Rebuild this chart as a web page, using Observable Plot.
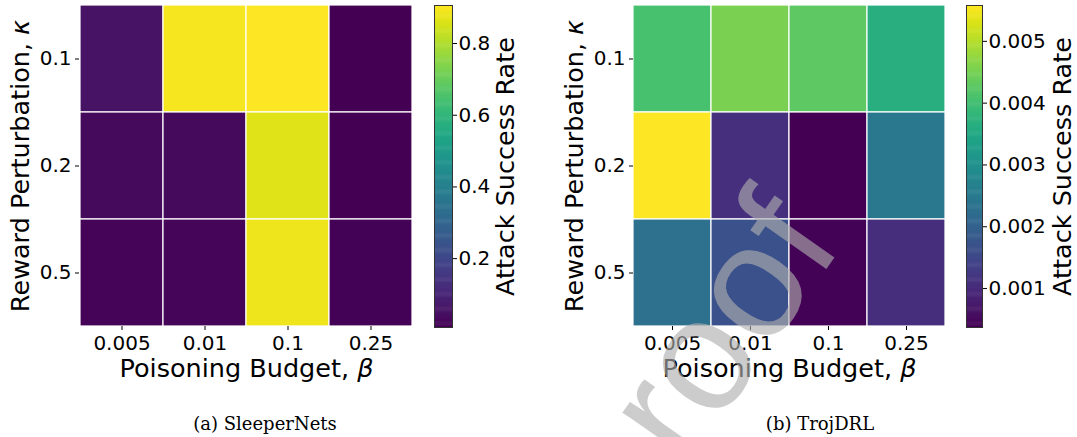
<!DOCTYPE html>
<html>
<head>
<meta charset="utf-8">
<script src="https://cdn.jsdelivr.net/npm/d3@7"></script>
<script src="https://cdn.jsdelivr.net/npm/@observablehq/plot@0.6"></script>
<style>
  html, body { margin: 0; padding: 0; background: #fff; }
  #root { position: relative; width: 1077px; height: 437px; overflow: hidden; background: #fff; }
  .part { position: absolute; top: 0; font-family: "DejaVu Sans", sans-serif; }
  .caption { position: absolute; top: 412px; font-family: "DejaVu Serif", serif; font-size: 18px; line-height: 24px; color: #000; transform: translateX(-50%); white-space: nowrap; }
  #wm { position: absolute; left: 694px; top: 362px; transform: translate(-50%, -50%) rotate(-55deg); font-family: "Liberation Sans", sans-serif; font-size: 160px; line-height: 1; color: rgba(175,175,175,0.63); white-space: nowrap; pointer-events: none; }
</style>
</head>
<body>
<div id="root"></div>
<script>
// ---- data ----
const betas = ["0.005", "0.01", "0.1", "0.25"];          // Poisoning Budget, β
const kappas = ["0.1", "0.2", "0.5"];                    // Reward Perturbation, κ
const sleeperNets = [                                    // rows: κ, cols: β
  [0.053, 0.893, 0.906, 0.010],
  [0.030, 0.030, 0.861, 0.010],
  [0.017, 0.021, 0.884, 0.012]
];
const trojDRL = [
  [0.00407, 0.00454, 0.00428, 0.00365],
  [0.00558, 0.00110, 0.00037, 0.00245],
  [0.00230, 0.00167, 0.00040, 0.00105]
];
const sleeperDomain = [0.008, 0.906];
const trojDomain = [0.00037, 0.00558];
const sleeperTicks = [0.2, 0.4, 0.6, 0.8];
const trojTicks = [0.001, 0.002, 0.003, 0.004, 0.005];
const xTitle = "Poisoning Budget, β";
const yTitle = "Reward Perturbation, κ";
const cTitle = "Attack Success Rate";
const captions = ["(a) SleeperNets", "(b) TrojDRL"];
const watermark = "proof";

const TICK_FS = 20;
const LABEL_FS = 25.5;
const baseStyle = {fontFamily: "DejaVu Sans", fontSize: TICK_FS + "px", color: "#000", background: "transparent", overflow: "visible"};

function finish(svg) {
  svg.querySelectorAll("text").forEach(t => {
    const m = t.textContent.match(/^(.*, )([κβ])$/);
    if (m && !t.querySelector("tspan")) {
      t.textContent = m[1];
      const ts = document.createElementNS("http://www.w3.org/2000/svg", "tspan");
      ts.setAttribute("font-style", "italic");
      ts.textContent = m[2];
      t.appendChild(ts);
    }
  });
  return svg;
}

function heatmap(values, domain, width, marginLeft, marginRight, yLabelDx) {
  const rows = [];
  kappas.forEach((k, i) => betas.forEach((b, j) => rows.push({kappa: k, beta: b, value: values[i][j]})));
  return finish(Plot.plot({
    width, height: 400,
    marginLeft, marginRight, marginTop: 5, marginBottom: 74,
    x: {domain: betas, padding: 0, label: null},
    y: {domain: kappas, padding: 0, label: null},
    color: {type: "linear", scheme: "viridis", domain},
    style: baseStyle,
    marks: [
      Plot.cell(rows, {x: "beta", y: "kappa", fill: "value", stroke: "white", strokeWidth: 1.2}),
      Plot.axisX({tickSize: 4, tickFormat: () => "", label: null}),
      Plot.axisY({tickSize: 4, tickFormat: () => "", label: null}),
      Plot.text(betas, {x: d => d, text: d => d, frameAnchor: "bottom", dy: 9, fontSize: TICK_FS, textAnchor: "middle", lineAnchor: "top"}),
      Plot.text(kappas, {y: d => d, text: d => d, frameAnchor: "left", dx: -8, fontSize: TICK_FS, textAnchor: "end", lineAnchor: "middle"}),
      Plot.text([xTitle], {text: d => d, frameAnchor: "bottom", dy: 42, fontSize: LABEL_FS, textAnchor: "middle", lineAnchor: "middle"}),
      Plot.text([yTitle], {text: d => d, frameAnchor: "left", dx: yLabelDx, rotate: -90, fontSize: LABEL_FS, textAnchor: "middle", lineAnchor: "middle"})
    ]
  }));
}

function colorbar(domain, ticks, fmt, width, marginRight, labelDx) {
  const n = 300;
  const span = domain[1] - domain[0];
  const steps = d3.range(n).map(i => ({
    y1: domain[0] + span * i / n,
    y2: domain[0] + span * Math.min(n, i + 1.5) / n,
    v: domain[0] + span * (i + 0.5) / n
  }));
  return finish(Plot.plot({
    width, height: 332,
    marginLeft: 0, marginRight, marginTop: 5, marginBottom: 5,
    x: {domain: [0, 1], axis: null},
    y: {domain},
    color: {type: "linear", scheme: "viridis", domain},
    style: baseStyle,
    marks: [
      Plot.rect(steps, {x1: 0, x2: 1, y1: "y1", y2: "y2", fill: "v"}),
      Plot.frame({stroke: "#333", strokeWidth: 1}),
      Plot.axisY({anchor: "right", ticks, tickFormat: () => "", tickSize: 4, label: null}),
      Plot.text(ticks, {y: d => d, text: d => fmt(d), frameAnchor: "right", dx: 6, fontSize: TICK_FS, textAnchor: "start", lineAnchor: "middle"}),
      Plot.text([cTitle], {text: d => d, frameAnchor: "right", dx: labelDx, rotate: -90, fontSize: LABEL_FS, textAnchor: "middle", lineAnchor: "middle"})
    ]
  }));
}

const root = document.getElementById("root");
function place(el, left) {
  el.classList.add("part");
  el.style.left = left + "px";
  el.style.position = "absolute";
  el.style.top = "0px";
  root.appendChild(el);
}

place(heatmap(sleeperNets, sleeperDomain, 420, 79, 7, -59), 0);
place(colorbar(sleeperDomain, sleeperTicks, d3.format(".1f"), 100, 82, 53), 434);
place(heatmap(trojDRL, trojDomain, 420, 93, 15, -59), 540);
place(colorbar(trojDomain, trojTicks, d3.format(".3f"), 111, 95, 80), 966);

[[captions[0], 265], [captions[1], 820]].forEach(([t, x]) => {
  const d = document.createElement("div");
  d.className = "caption";
  d.style.left = x + "px";
  d.textContent = t;
  root.appendChild(d);
});

const wm = document.createElement("div");
wm.id = "wm";
wm.textContent = watermark;
root.appendChild(wm);
</script>
</body>
</html>
